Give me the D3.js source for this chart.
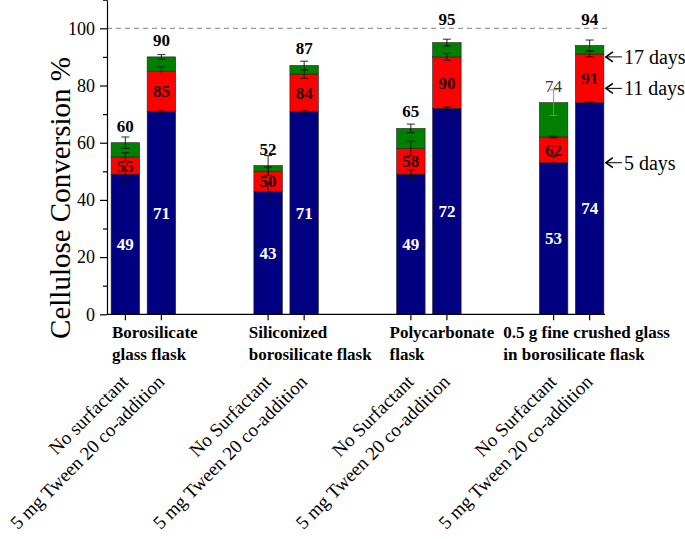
<!DOCTYPE html>
<html>
<head>
<meta charset="utf-8">
<script src="https://cdn.jsdelivr.net/npm/d3@7"></script>
<style>
  body { margin: 0; background: #fff; }
  text { font-family: "Liberation Serif", "Times New Roman", serif; }
</style>
</head>
<body>
<svg id="chart" width="685" height="539"></svg>
<script>
// group (flask) names, split in two lines
const groups = ["boro", "silic", "poly", "crushed"];
const groupLines = [
    ["Borosilicate", "glass flask"],
    ["Siliconized", "borosilicate flask"],
    ["Polycarbonate", "flask"],
    ["0.5 g fine crushed glass", "in borosilicate flask"]
];
const conditions = ["none", "tween"];
const conditionLabels = [
    ["No surfactant", "5 mg Tween 20 co-addition"],
    ["No Surfactant", "5 mg Tween 20 co-addition"],
    ["No Surfactant", "5 mg Tween 20 co-addition"],
    ["No Surfactant", "5 mg Tween 20 co-addition"]
];

// cumulative conversion %, order: boro none, boro tween, silic none, ...
const day5  = [49, 71, 43, 71, 49, 72, 53, 74];
const day11 = [55, 85, 50, 84, 58, 90, 62, 91];
const day17 = [60, 90, 52, 87, 65, 95, 74, 94];
const err5  = [3, 0.5, 3, 0.5, 1.5, 0.5, 2.3, 0.3];
const err11 = [1.5, 1.5, 1.5, 1.5, 2.5, 1.2, 0.3, 1];
const err17 = [2, 0.8, 3.5, 1.5, 1.5, 1.2, 4.5, 1.9];

const yTicks = [0, 20, 40, 60, 80, 100];
const yMinor = [10, 30, 50, 70, 90, 110];
const dayNotes = [{label: "17 days", v: 90}, {label: "11 days", v: 79}, {label: "5 days", v: 53}];

const colors = {d5: "#000080", d11: "#ff0000", d17: "#007f00"};

const svg = d3.select("#chart");

const y = d3.scaleLinear().domain([0, 110]).range([314.3, -0.3]);

const x0 = d3.scaleBand().domain(groups).range([72, 643]);
const x1 = d3.scaleBand().domain(conditions).range([0, 64.5]).paddingInner(0.21);
const inset = (x0.bandwidth() - 64.5) / 2;

let bars = [];
groups.forEach(function(g, gi) {
    conditions.forEach(function(c, ci) {
        const i = gi * 2 + ci;
        bars.push({
            i: i, g: g, c: c,
            x: x0(g) + inset + x1(c),
            label: conditionLabels[gi][ci],
            segs: [
                {lo: 0, hi: day5[i], err: err5[i], col: colors.d5},
                {lo: day5[i], hi: day11[i], err: err11[i], col: colors.d11},
                {lo: day11[i], hi: day17[i], err: err17[i], col: colors.d17}
            ]
        });
    });
});
const bw = x1.bandwidth();

// dashed 100% line
svg.append("line")
    .attr("x1", 107).attr("x2", 608)
    .attr("y1", y(100)).attr("y2", y(100))
    .attr("stroke", "#999").attr("stroke-width", 1.2)
    .attr("stroke-dasharray", "5,4");

// bars
const barG = svg.append("g").selectAll("g").data(bars).join("g");
barG.selectAll("rect").data(d => d.segs).join("rect")
    .attr("x", function() { return d3.select(this.parentNode).datum().x; })
    .attr("width", bw)
    .attr("y", d => y(d.hi))
    .attr("height", d => y(d.lo) - y(d.hi))
    .attr("fill", d => d.col)
    .attr("stroke", "#222").attr("stroke-width", 0.6);

// error bars
bars.forEach(function(b) {
    const cx = b.x + bw / 2;
    b.segs.forEach(function(s, si) {
        const stroke = (b.i === 6 && si === 2) ? "#888" : "#111";
        const g = svg.append("g").attr("stroke", stroke).attr("stroke-width", 0.9);
        g.append("line").attr("x1", cx).attr("x2", cx)
            .attr("y1", y(s.hi + s.err)).attr("y2", y(s.hi - s.err));
        [s.hi + s.err, s.hi - s.err].forEach(v => {
            g.append("line").attr("x1", cx - 4).attr("x2", cx + 4)
                .attr("y1", y(v)).attr("y2", y(v));
        });
    });
});

// value labels
bars.forEach(function(b) {
    const cx = b.x + bw / 2;
    svg.append("text")
        .attr("x", cx).attr("y", y(b.segs[0].hi / 2))
        .attr("dy", "0.35em")
        .attr("text-anchor", "middle")
        .attr("font-size", 17).attr("font-weight", "bold")
        .attr("fill", "#fff")
        .text(day5[b.i]);
    svg.append("text")
        .attr("x", cx).attr("y", y((b.segs[1].lo + b.segs[1].hi) / 2))
        .attr("dy", "0.35em")
        .attr("text-anchor", "middle")
        .attr("font-size", 17).attr("font-weight", "bold")
        .attr("fill", "#2a0000")
        .text(day11[b.i]);
    let ty = y(day17[b.i]) - 11;
    if (ty > y(100) - 3 && ty < y(100) + 12) ty = y(100) - 3;
    svg.append("text")
        .attr("x", cx).attr("y", ty)
        .attr("text-anchor", "middle")
        .attr("font-size", 17)
        .attr("font-weight", b.i === 6 ? "normal" : "bold")
        .attr("fill", b.i === 6 ? "#333" : "#000")
        .text(day17[b.i]);
});

// y axis
svg.append("g")
    .attr("transform", "translate(107,0)")
    .call(d3.axisLeft(y).tickValues(yTicks).tickSize(7).tickPadding(5).tickSizeOuter(0))
    .call(g => g.selectAll("text").attr("font-size", 18).attr("font-family", "Liberation Serif").attr("fill", "#000"))
    .call(g => g.selectAll("line, path").attr("stroke", "#000").attr("stroke-width", 1.2));
svg.append("g")
    .attr("transform", "translate(107,0)")
    .call(d3.axisLeft(y).tickValues(yMinor).tickSize(4).tickFormat("").tickSizeOuter(0))
    .call(g => g.select(".domain").remove())
    .call(g => g.selectAll("line").attr("stroke", "#000").attr("stroke-width", 1.2));

svg.append("text")
    .attr("transform", "translate(70,198) rotate(-90)")
    .attr("text-anchor", "middle")
    .attr("font-size", 29)
    .text("Cellulose Conversion %");

// x axis line + ticks at each bar
svg.append("line")
    .attr("x1", 107).attr("x2", 605)
    .attr("y1", y(0)).attr("y2", y(0))
    .attr("stroke", "#000").attr("stroke-width", 1.2);
svg.append("g").selectAll("line").data(bars).join("line")
    .attr("x1", d => d.x + bw / 2).attr("x2", d => d.x + bw / 2)
    .attr("y1", y(0)).attr("y2", y(0) + 6)
    .attr("stroke", "#000").attr("stroke-width", 1.2);

// group labels
const groupDx = [40, 34, 32, 3];
groups.forEach(function(g, gi) {
    const t = svg.append("text")
        .attr("x", x0(g) + groupDx[gi]).attr("y", 338)
        .attr("font-size", 17).attr("font-weight", "bold");
    groupLines[gi].forEach((ln, li) => {
        t.append("tspan").attr("x", x0(g) + groupDx[gi]).attr("y", 338 + li * 22).text(ln);
    });
});

// rotated condition labels
svg.append("g").selectAll("text").data(bars).join("text")
    .attr("transform", d => `translate(${d.x + bw / 2 + 4},383) rotate(-45)`)
    .attr("text-anchor", "end")
    .attr("font-size", 19)
    .text(d => d.label);

// day annotations by the last bar
const last = bars[bars.length - 1];
const ax = last.x + bw + 2;
dayNotes.forEach(function(n) {
    const yy = y(n.v);
    svg.append("line").attr("x1", ax).attr("x2", ax + 16)
        .attr("y1", yy).attr("y2", yy)
        .attr("stroke", "#000").attr("stroke-width", 1);
    svg.append("path")
        .attr("d", `M${ax + 7},${yy - 5}L${ax},${yy}L${ax + 7},${yy + 5}`)
        .attr("fill", "none").attr("stroke", "#000").attr("stroke-width", 1.6);
    svg.append("text")
        .attr("x", ax + 18).attr("y", yy).attr("dy", "0.35em")
        .attr("font-size", 20)
        .text(n.label);
});
</script>
</body>
</html>
